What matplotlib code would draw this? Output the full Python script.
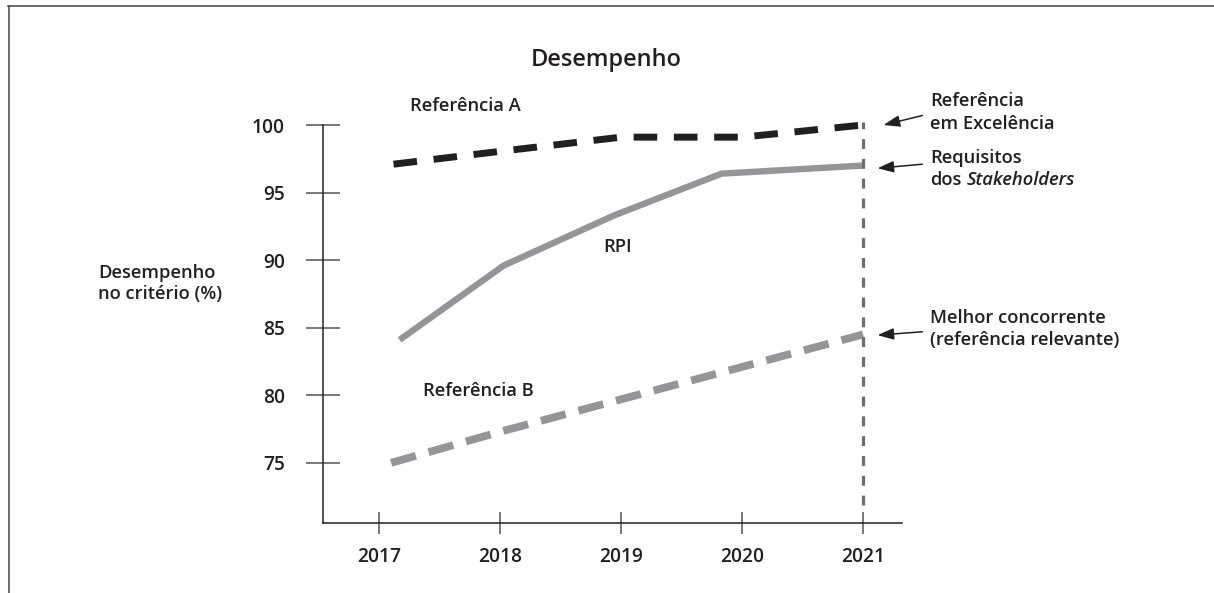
import matplotlib
matplotlib.use('Agg')
import matplotlib.pyplot as plt
from matplotlib.lines import Line2D

# data
anos = [2017, 2018, 2019, 2020, 2021]
ref_a_x = [2017.12, 2018.0, 2019.0, 2020.0, 2021.0]
ref_a = [97.1, 98.05, 99.1, 99.1, 100.0]
rpi_x = [2017.17, 2018.03, 2018.94, 2019.83, 2021.0]
rpi = [84.1, 89.6, 93.3, 96.4, 97.0]
ref_b_x = [2017.1, 2018.0, 2019.0, 2020.0, 2021.0]
ref_b = [75.0, 77.3, 79.7, 82.1, 84.5]
yticks = [75, 80, 85, 90, 95, 100]

PRETO = '#231f20'
CINZA = '#939598'
CINZA_ESC = '#6d6e71'
FONTE = 'Open Sans'

plt.rcParams['font.family'] = [FONTE, 'DejaVu Sans']
plt.rcParams['text.color'] = PRETO

fig = plt.figure(figsize=(12.14, 5.93), dpi=100)
ax = fig.add_axes([323/1214, 70/593, 579/1214, 398/593])

ax.plot(ref_a_x, ref_a, color=PRETO, lw=5, dashes=(3.4, 2.4), clip_on=False)
ax.plot(rpi_x, rpi, color=CINZA, lw=4.6, solid_capstyle='butt', solid_joinstyle='miter', clip_on=False)
ax.plot(ref_b_x, ref_b, color=CINZA, lw=5.6, dashes=(3.3, 1.7), clip_on=False)
# linha vertical em 2021
ax.plot([anos[-1], anos[-1]], [71.9, 100.2], color=CINZA_ESC, lw=2.3, dashes=(3.1, 3.1), clip_on=False)

ax.set_xlim(2016.537, 2021.322)
ax.set_ylim(70.55, 100)
ax.set_xticks(anos)
ax.set_yticks(yticks)
for s in ['top', 'right']:
    ax.spines[s].set_visible(False)
for s in ['left', 'bottom']:
    ax.spines[s].set_color(PRETO)
    ax.spines[s].set_linewidth(1.1)
ax.tick_params(axis='y', direction='inout', length=25, width=1.1, color='#555555', pad=15,
               labelsize=13.8, labelcolor=PRETO)
ax.tick_params(axis='x', direction='inout', length=16, width=1.1, color='#555555', pad=9,
               labelsize=13.8, labelcolor=PRETO)
for lb in ax.get_xticklabels() + ax.get_yticklabels():
    lb.set_fontweight('semibold')

txt = dict(fontsize=13.2, fontweight='semibold', color=PRETO)
ax.text(2017.256, 101.44, 'Referência A', va='center', ha='left', clip_on=False, **txt)
ax.text(2018.85, 91.0, 'RPI', va='center', ha='left', **txt)
ax.text(2017.364, 80.3, 'Referência B', va='center', ha='left', **txt)

# anotações à direita
xt = 2021.554
ax.text(xt, 101.75, 'Referência', va='center', ha='left', clip_on=False, **txt)
ax.text(xt, 100.1, 'em Excelência', va='center', ha='left', clip_on=False, **txt)
ax.text(xt, 97.55, 'Requisitos', va='center', ha='left', clip_on=False, **txt)
t_dos = ax.text(xt, 95.95, 'dos', va='center', ha='left', clip_on=False, **txt)
ax.annotate('Stakeholders', xy=(1, 0.5), xycoords=t_dos, xytext=(3.5, 0), textcoords='offset points',
            va='center', ha='left', fontstyle='italic', **txt)
ax.text(xt, 85.7, 'Melhor concorrente', va='center', ha='left', clip_on=False, **txt)
ax.text(xt, 84.1, '(referência relevante)', va='center', ha='left', clip_on=False, **txt)

seta = dict(arrowstyle='-|>,head_length=0.7,head_width=0.25', color=PRETO, lw=1.1,
            mutation_scale=14, shrinkA=0, shrinkB=0)
ax.annotate('', xy=(ref_a_x[-1] + 0.17, ref_a[-1]), xytext=(2021.49, 100.7), arrowprops=seta,
            annotation_clip=False)
ax.annotate('', xy=(rpi_x[-1] + 0.12, rpi[-1] - 0.2), xytext=(2021.49, 97.1), arrowprops=seta,
            annotation_clip=False)
ax.annotate('', xy=(ref_b_x[-1] + 0.12, ref_b[-1] - 0.05), xytext=(2021.49, 84.7), arrowprops=seta,
            annotation_clip=False)

fig.text(606/1214, 1 - 60/593, 'Desempenho', ha='center', va='center', fontsize=17,
         fontweight='semibold', color=PRETO)
fig.text(98/1214, 1 - 273/593, 'Desempenho', ha='left', va='center', **txt)
fig.text(98/1214, 1 - 294/593, 'no critério (%)', ha='left', va='center', **txt)

# moldura
fig.add_artist(Line2D([8/1214, 1], [1 - 6/593, 1 - 6/593], color='#444444', lw=1.1))
fig.add_artist(Line2D([9/1214, 9/1214], [0, 1 - 6/593], color='#444444', lw=1.1))

fig.savefig('out.png', dpi=100)
